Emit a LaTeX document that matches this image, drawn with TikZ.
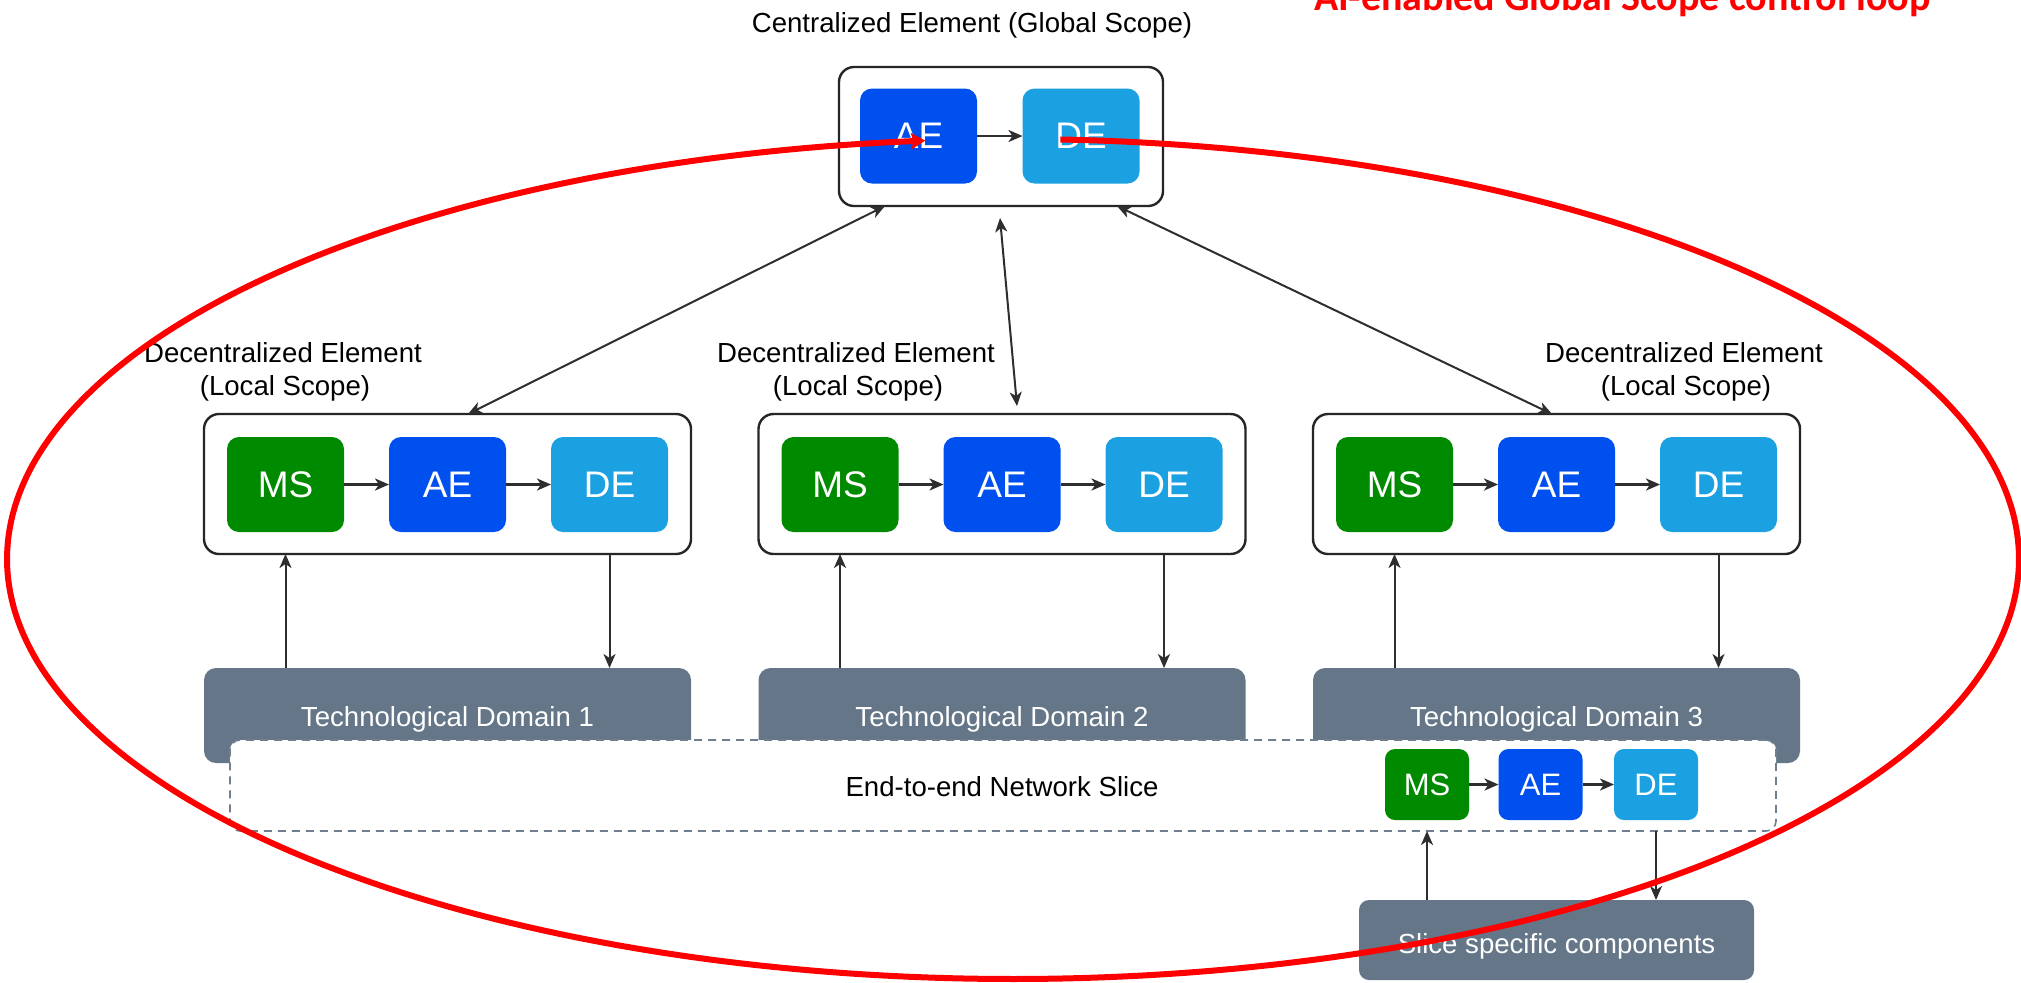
\documentclass[tikz,border=0pt]{standalone}
\usepackage{fontspec}
\setmainfont{Liberation Sans}
\newfontfamily\carlito{Carlito}
\usetikzlibrary{arrows.meta,calc}

\definecolor{msgreen}{HTML}{008A00}
\definecolor{aeblue}{HTML}{0050EF}
\definecolor{deblue}{HTML}{1BA1E2}
\definecolor{slate}{HTML}{647687}
\definecolor{slicedash}{HTML}{6F7F90}
\definecolor{linkgray}{HTML}{2E2E2E}

\begin{document}
\begin{tikzpicture}[x=0.5pt,y=-0.5pt,
  every node/.style={inner sep=0pt,outer sep=0pt},
  arr/.style={-{Stealth[length=7pt,width=6pt,inset=2pt]}},
  biarr/.style={{Stealth[length=7pt,width=6pt,inset=2pt]}-{Stealth[length=7pt,width=6pt,inset=2pt]}},
  link/.style={draw=linkgray,line width=1pt},
  shortlink/.style={draw=linkgray,line width=1.3pt},
  holder/.style={draw=black!85,line width=1.2pt,fill=white,rounded corners=7.5pt,
    minimum width=243.5pt,minimum height=70pt},
  elem/.style={rounded corners=6pt,minimum width=58.5pt,minimum height=47.5pt,
    text=white,font=\fontsize{18.5}{22}\selectfont},
  mini/.style={minimum width=42pt,minimum height=35.5pt,rounded corners=5pt,
    font=\fontsize{15.5}{18}\selectfont},
  ms/.style={elem,fill=msgreen},
  ae/.style={elem,fill=aeblue},
  de/.style={elem,fill=deblue},
  tdbox/.style={fill=slate,rounded corners=6pt,minimum width=243.5pt,minimum height=47.5pt},
  lbl/.style={font=\fontsize{13.8}{16}\selectfont,anchor=base},
  wlbl/.style={lbl,text=white},
  redloop/.style={draw=red,line width=3pt,-{Stealth[length=7pt,width=8pt,inset=1pt]}},
]
\fill[white] (0,0) rectangle (2021,982);
\useasboundingbox (0,0) rectangle (2021,982);

% technological domains, partly covered by the slice band
\foreach \i/\cx in {1/447.5,2/1002,3/1556.5}{
  \node[tdbox] (td\i) at (\cx,715.5) {};
  \node[wlbl] (td\i t) at (\cx,726) {Technological Domain \i};
}

% end-to-end network slice band
\node[draw=slicedash,dash pattern=on 4pt off 3pt,line width=0.8pt,fill=white,
  rounded corners=5pt,minimum width=773pt,minimum height=45.5pt] (slice) at (1003,785.5) {};
\node[lbl] (slicet) at (1002,796) {End-to-end Network Slice};
\node[ms,mini] (ms4) at (1427,784.5) {MS};
\node[ae,mini] (ae4) at (1540.5,784.5) {AE};
\node[de,mini] (de4) at (1656,784.5) {DE};
\draw[shortlink,arr] (ms4) -- (ae4);
\draw[shortlink,arr] (ae4) -- (de4);

% slice specific components
\node[fill=slate,rounded corners=5pt,minimum width=197.5pt,minimum height=40pt] (ssc) at (1556.5,940) {};
\node[wlbl] (ssct) at (1556.5,953) {Slice specific components};
\draw[link,arr] (ms4 |- ssc.north) -- (ms4 |- slice.south);
\draw[link,arr] (de4 |- slice.south) -- (de4 |- ssc.north);

% centralized element
\node[lbl] (gtitle) at (972,32) {Centralized Element (Global Scope)};
\node[holder,minimum width=162pt,minimum height=69.5pt] (gtop) at (1001,136.5) {};
\node[ae] (ae0) at (918.5,136) {AE};
\node[de] (de0) at (1081,136) {DE};
\draw[shortlink,arr] (ae0) -- (de0);

% decentralized elements
\foreach \i/\cx/\lx in {1/447.5/283,2/1002/856,3/1556.5/1684}{
  \node[lbl] (lab\i a) at (\lx,362) {Decentralized Element};
  \node[lbl] (lab\i b) at (\lx+2,395) {(Local Scope)};
  \node[holder] (box\i) at (\cx,484) {};
  \node[ms] (ms\i) at (\cx-162,484.5) {MS};
  \node[ae] (ae\i) at (\cx,484.5) {AE};
  \node[de] (de\i) at (\cx+162,484.5) {DE};
  \draw[shortlink,arr] (ms\i) -- (ae\i);
  \draw[shortlink,arr] (ae\i) -- (de\i);
  \draw[link,arr] (ms\i |- td\i.north) -- (ms\i |- box\i.south);
  \draw[link,arr] (de\i |- box\i.south) -- (de\i |- td\i.north);
}

% global <-> local links
\coordinate (g1) at ($(gtop.south west)+(46,0)$);
\coordinate (g2) at ($(gtop.south)+(-1,12)$);
\coordinate (g3) at ($(gtop.south east)+(-46,0)$);
\coordinate (l1) at ($(box1.north)+(20.5,0)$);
\coordinate (l2) at ($(box2.north)+(15,-8)$);
\coordinate (l3) at ($(box3.north)+(-4.5,0)$);
\draw[link,biarr] (g1) -- (l1);
\draw[link,biarr] (g2) -- (l2);
\draw[link,biarr] (g3) -- (l3);

% AI-enabled global control loop
\draw[redloop] plot[domain=-87.3:265,samples=300,smooth]
  ({1013+1006*cos(\x)},{559+420*sin(\x)});

\begin{scope}
  \clip (0,0) rectangle (2021,982);
  \node[anchor=base west,text=red,font=\carlito\bfseries\fontsize{20}{24}\selectfont]
    (looptitle) at (1314,10) {AI-enabled Global Scope control loop};
\end{scope}
\end{tikzpicture}
\end{document}
